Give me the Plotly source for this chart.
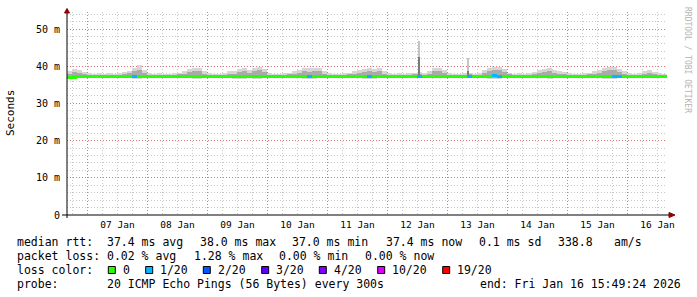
import plotly.graph_objects as go
import pandas as pd
import re

# ---------------- data (2-hour bins, 10 days ending Fri Jan 16 15:49:24 2026) ----------------
start = pd.Timestamp("2026-01-06 15:49:24")
end = pd.Timestamp("2026-01-16 15:49:24")
BIN_H = 2

smoke_max = [38.8, 39.3, 39.0, 38.5,
             38.1, 38.0, 38.2, 38.0, 38.1, 38.0, 38.2,
             38.5, 38.8, 39.5, 40.2, 39.0,
             38.2, 38.0, 38.1, 38.0, 38.0, 38.1, 38.3,
             38.8, 39.2, 39.6, 39.5, 38.8,
             38.1, 38.0, 38.0, 38.2,
             38.6, 38.8, 39.2, 39.4, 39.0, 39.6, 39.9, 39.3,
             38.2, 38.0, 38.0, 38.1, 38.3,
             38.6, 39.0, 39.5, 39.4, 39.6, 39.5, 38.8,
             38.1, 38.0, 38.0, 38.2, 38.3,
             38.6, 39.0, 39.2, 39.5, 39.3, 39.6, 38.8,
             38.1, 38.0, 38.2, 38.0, 38.1, 38.3, 38.5, 38.2,
             38.8, 39.4, 39.6, 39.0,
             38.2, 38.0, 38.0, 38.1, 38.3, 38.0, 38.2,
             39.0, 39.6, 39.9, 39.7, 39.2,
             38.3, 38.0, 38.1, 38.0, 38.2,
             38.5, 38.9, 39.2, 39.4, 39.0, 38.8, 38.5,
             38.1, 38.0, 38.0, 38.2, 38.3,
             38.6, 39.0, 39.4, 39.7, 39.8, 39.3, 38.7,
             38.1, 38.0, 38.2,
             38.6, 38.9, 38.5,
             38.2, 38.0]

smoke_mid = [38.0, 38.4, 38.2, 37.9,
             37.7, 37.6, 37.7, 37.6, 37.7, 37.6, 37.7,
             37.9, 38.1, 38.6, 39.0, 38.2,
             37.7, 37.6, 37.7, 37.6, 37.6, 37.7, 37.8,
             38.0, 38.4, 38.7, 38.6, 38.0,
             37.7, 37.6, 37.6, 37.7,
             37.9, 38.0, 38.4, 38.6, 38.2, 38.8, 39.1, 38.5,
             37.7, 37.6, 37.6, 37.7, 37.8,
             37.9, 38.2, 38.6, 38.5, 38.8, 38.6, 38.0,
             37.7, 37.6, 37.6, 37.7, 37.8,
             37.9, 38.2, 38.4, 38.7, 38.5, 38.8, 38.0,
             37.7, 37.6, 37.7, 37.6, 37.7, 37.8, 38.0, 37.7,
             38.0, 38.6, 38.8, 38.2,
             37.7, 37.6, 37.6, 37.7, 37.8, 37.6, 37.7,
             38.2, 38.8, 39.1, 38.9, 38.4,
             37.8, 37.6, 37.7, 37.6, 37.7,
             37.8, 38.1, 38.4, 38.6, 38.2, 38.0, 37.8,
             37.7, 37.6, 37.6, 37.7, 37.8,
             37.9, 38.2, 38.6, 38.9, 39.0, 38.5, 37.9,
             37.7, 37.6, 37.7,
             37.9, 38.1, 37.8,
             37.7, 37.6]

smoke_min = [36.6, 36.6, 36.7, 36.8,
             36.9, 36.9, 36.9, 36.9, 36.9, 36.9, 36.9,
             36.8, 36.7, 36.6, 36.6, 36.7,
             36.9, 36.9, 36.9, 36.9, 36.9, 36.9, 36.9,
             36.8, 36.7, 36.6, 36.6, 36.8,
             36.9, 36.9, 36.9, 36.9,
             36.7, 36.6, 36.6, 36.6, 36.7, 36.6, 36.6, 36.7,
             36.9, 36.9, 36.9, 36.9, 36.9,
             36.8, 36.7, 36.6, 36.6, 36.6, 36.7, 36.8,
             36.9, 36.9, 36.9, 36.9, 36.9,
             36.8, 36.7, 36.6, 36.6, 36.6, 36.7, 36.8,
             36.9, 36.9, 36.9, 36.9, 36.9, 36.9, 36.8, 36.9,
             36.8, 36.7, 36.7, 36.8,
             36.9, 36.9, 36.9, 36.9, 36.8, 36.9, 36.9,
             36.7, 36.6, 36.6, 36.6, 36.7,
             36.9, 36.9, 36.9, 36.9, 36.9,
             36.8, 36.7, 36.7, 36.6, 36.7, 36.8, 36.8,
             36.9, 36.9, 36.9, 36.9, 36.9,
             36.8, 36.7, 36.6, 36.6, 36.6, 36.7, 36.8,
             36.9, 36.9, 36.9,
             36.8, 36.8, 36.8,
             36.9, 36.9]

median = [37.0, 37.1, 37.2, 37.2,
          37.2, 37.2, 37.2, 37.2, 37.2, 37.2, 37.2,
          37.2, 37.3, 37.3, 37.3, 37.2,
          37.2, 37.2, 37.2, 37.2, 37.2, 37.2, 37.2,
          37.2, 37.3, 37.3, 37.3, 37.2,
          37.2, 37.2, 37.2, 37.2,
          37.2, 37.3, 37.3, 37.3, 37.2, 37.3, 37.3, 37.2,
          37.2, 37.2, 37.2, 37.2, 37.2,
          37.2, 37.3, 37.3, 37.3, 37.3, 37.3, 37.2,
          37.2, 37.2, 37.2, 37.2, 37.2,
          37.2, 37.3, 37.3, 37.3, 37.3, 37.3, 37.2,
          37.2, 37.2, 37.2, 37.2, 37.2, 37.2, 37.3, 37.2,
          37.2, 37.3, 37.3, 37.2,
          37.2, 37.2, 37.2, 37.2, 37.2, 37.2, 37.2,
          37.3, 37.3, 37.4, 37.3, 37.2,
          37.2, 37.2, 37.2, 37.2, 37.2,
          37.2, 37.3, 37.3, 37.3, 37.2, 37.2, 37.2,
          37.2, 37.2, 37.2, 37.2, 37.2,
          37.2, 37.3, 37.3, 37.3, 37.3, 37.3, 37.2,
          37.2, 37.2, 37.2,
          37.2, 37.3, 37.2,
          37.2, 37.2]

loss = [0] * 13 + [1] + [0] * 34 + [1] + [0] * 11 + [1] + [0] * 9 + [1] + [0] * 9 + [1] + [0] * 4 + [1, 1] + [0] * 22 + [1, 1] + [0] * 9

spike_times = ["2026-01-12 12:48", "2026-01-13 08:24"]
spike_top = [46.8, 42.3]
spike_dark_top = [42.5, 38.6]

loss_labels = ["0", "1/20", "2/20", "3/20", "4/20", "10/20", "19/20"]
loss_counts = [0, 1, 2, 3, 4, 10, 19]
loss_colors = ["#26ff00", "#00b8ff", "#0059ff", "#5e00ff", "#7e00ff", "#dd00ff", "#ff0000"]

day_labels = ["07 Jan", "08 Jan", "09 Jan", "10 Jan", "11 Jan",
              "12 Jan", "13 Jan", "14 Jan", "15 Jan", "16 Jan"]
y_ticks = [0, 10, 20, 30, 40, 50]
y_ticktext = ["0", "10 m", "20 m", "30 m", "40 m", "50 m"]

legend_line1 = ["median rtt:", "37.4 ms avg", "38.0 ms max", "37.0 ms min",
                "37.4 ms now", "0.1 ms sd", "338.8", "am/s"]
legend_line2 = "packet loss: 0.02 % avg  1.28 % max  0.00 % min  0.00 % now"
probe_text = "20 ICMP Echo Pings (56 Bytes) every 300s"
end_text = "end: Fri Jan 16 15:49:24 2026"

# ---------------- geometry ----------------
W, H = 697, 297
L, R, T, B = 67, 30, 12, 82
PW, PH = W - L - R, H - T - B
YMAX = PH / 3.72
MONO = "DejaVu Sans Mono"


def px(x):
    return (x - L) / PW


def py(y):
    return (H - B - y) / PH


def nb(s):
    return s.replace(" ", "\u00a0")


n = len(median)
centers = [start + pd.Timedelta(hours=BIN_H * (i + 0.5)) for i in range(n)]
bw = BIN_H * 3600 * 1000
col_of = dict(zip(loss_counts, loss_colors))

fig = go.Figure()
fig.add_trace(go.Bar(x=centers, base=smoke_min,
                     y=[a - b for a, b in zip(smoke_max, smoke_min)],
                     width=bw, marker=dict(color="#d6d6d6", line=dict(width=0)),
                     hoverinfo="skip", showlegend=False))
mid_base = [m - 0.5 for m in median]
fig.add_trace(go.Bar(x=centers, base=mid_base,
                     y=[a - b for a, b in zip(smoke_mid, mid_base)],
                     width=bw, marker=dict(color="#aaaaaa", line=dict(width=0)),
                     hoverinfo="skip", showlegend=False))
fig.add_trace(go.Bar(x=spike_times, base=[37.2] * len(spike_top),
                     y=[t - 37.2 for t in spike_top],
                     width=50 * 60 * 1000, marker=dict(color="#c4c4c4", line=dict(width=0)),
                     hoverinfo="skip", showlegend=False))
fig.add_trace(go.Bar(x=spike_times, base=[37.2] * len(spike_top),
                     y=[t - 37.2 for t in spike_dark_top],
                     width=30 * 60 * 1000, marker=dict(color="#7a7a7a", line=dict(width=0)),
                     hoverinfo="skip", showlegend=False))
fig.add_trace(go.Bar(x=centers, base=[m - 0.42 for m in median], y=[0.84] * n,
                     width=bw, marker=dict(color=[col_of[v] for v in loss], line=dict(width=0)),
                     hoverinfo="skip", showlegend=False))

midnights = [pd.Timestamp("2026-01-07") + pd.Timedelta(days=i) for i in range(10)]
noons = [d + pd.Timedelta(hours=12) for d in midnights]

red_grid = "rgba(255,0,0,0.40)"
gray_grid = "rgba(143,143,143,0.50)"
dots = "1px,2px"

fig.update_layout(
    width=W, height=H, margin=dict(l=L, r=R, t=T, b=B, pad=0),
    paper_bgcolor="white", plot_bgcolor="white",
    barmode="overlay", bargap=0,
    showlegend=False,
    xaxis=dict(type="date", range=[start, end], tickmode="array", tickvals=midnights,
               ticktext=[""] * len(midnights), showticklabels=False,
               showgrid=True, gridcolor=red_grid, griddash=dots, gridwidth=1,
               minor=dict(dtick=6 * 3600 * 1000, tick0="2026-01-07", showgrid=True,
                          gridcolor=gray_grid, griddash=dots, gridwidth=1),
               zeroline=False, showline=False, ticks=""),
    xaxis2=dict(type="date", overlaying="x", matches="x", range=[start, end], side="bottom",
                anchor="y", tickmode="array", tickvals=noons, ticktext=day_labels,
                showgrid=False, zeroline=False, showline=False, ticks="",
                tickfont=dict(family=MONO, size=9.5, color="black"), ticklabelstandoff=2),
    yaxis=dict(range=[0, YMAX], tickmode="array", tickvals=y_ticks, ticktext=y_ticktext,
               showgrid=True, gridcolor=red_grid, griddash=dots, gridwidth=1,
               minor=dict(dtick=2, tick0=0, showgrid=True, gridcolor=gray_grid,
                          griddash=dots, gridwidth=1),
               zeroline=False, showline=False, ticks="",
               tickfont=dict(family=MONO, size=10, color="black"), ticklabelstandoff=6),
)

# invisible trace so xaxis2 renders its labels
fig.add_trace(go.Scatter(x=[start], y=[0], xaxis="x2", mode="markers",
                         marker=dict(opacity=0), hoverinfo="skip", showlegend=False))

shapes = []
shapes.append(dict(type="line", xref="paper", yref="paper", x0=px(67), x1=px(67),
                   y0=py(218), y1=py(12), line=dict(color="black", width=1)))
shapes.append(dict(type="line", xref="paper", yref="paper", x0=px(62), x1=px(670),
                   y0=py(215), y1=py(215), line=dict(color="black", width=1)))
shapes.append(dict(type="path", xref="paper", yref="paper",
                   path=f"M {px(64.5)} {py(13)} L {px(67)} {py(8.5)} L {px(69.5)} {py(13)} Z",
                   fillcolor="#8b0000", line=dict(color="#8b0000", width=1)))
shapes.append(dict(type="path", xref="paper", yref="paper",
                   path=f"M {px(669)} {py(212.5)} L {px(675)} {py(215)} L {px(669)} {py(217.5)} Z",
                   fillcolor="#8b0000", line=dict(color="#8b0000", width=1)))

ann = []
ann.append(dict(text="Seconds", xref="paper", yref="paper", x=px(10.5), y=py(113.5),
                xanchor="center", yanchor="middle", textangle=-90, showarrow=False,
                font=dict(family=MONO, size=11, color="black")))
ann.append(dict(text=nb("RRDTOOL / TOBI OETIKER"), xref="paper", yref="paper", x=px(688),
                y=py(60), xanchor="center", yanchor="middle", textangle=90, showarrow=False,
                font=dict(family=MONO, size=8, color="#b4b4b4")))

FS = 11.5
CW = 7.1
lx = 16.7


def text_at(s, x, y, anchor="left"):
    ann.append(dict(text=nb(s), xref="paper", yref="paper", x=px(x), y=py(y),
                    xanchor=anchor, yanchor="middle", showarrow=False,
                    borderpad=0, borderwidth=0,
                    font=dict(family=MONO, size=FS, color="black")))


def text_tokens(s, x0, y):
    for m in re.finditer(r"\S+(?: \S+)*", s):
        text_at(m.group(0), x0 + m.start() * CW, y)


line1_x = [16.7, 107.3, 200.0, 292.3, 385.7, 478.8, 558.3, 614.0]
for tok, x in zip(legend_line1, line1_x):
    text_at(tok, x, 241.7)
text_tokens(legend_line2, lx, 255.5)
text_at("loss color:", lx, 269.5)
sq_x = [108.3, 145.7, 203.3, 261.7, 319.3, 377.7, 442.7]
for sx, lab, c in zip(sq_x, loss_labels, loss_colors):
    shapes.append(dict(type="rect", xref="paper", yref="paper", x0=px(sx), x1=px(sx + 7),
                       y0=py(266.5), y1=py(273.5), fillcolor=c,
                       line=dict(color="black", width=1)))
    text_at(lab, sx + 14.5, 269.5)
text_at("probe:", lx, 283.5)
text_tokens(probe_text, 107.3, 283.5)
text_at(end_text, 681, 283.5, anchor="right")

fig.update_layout(shapes=shapes, annotations=ann)
fig.write_html("out.html")
